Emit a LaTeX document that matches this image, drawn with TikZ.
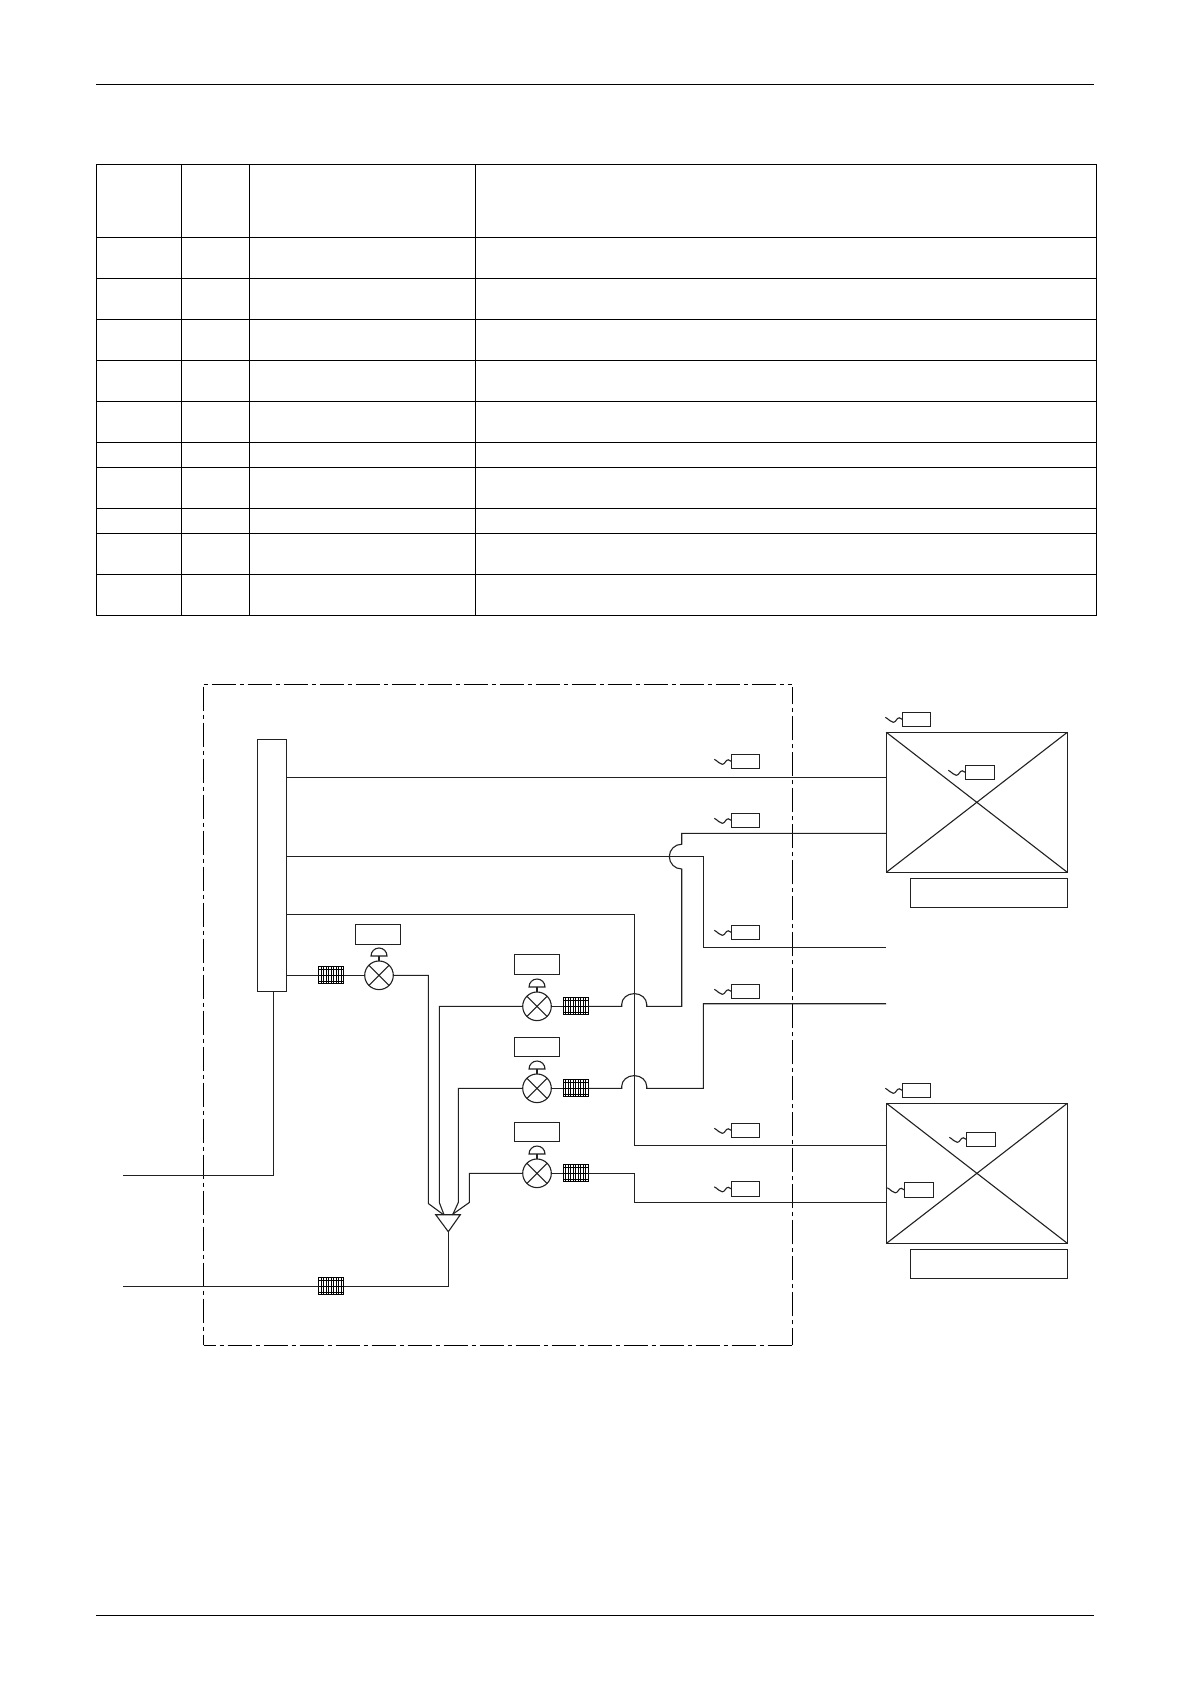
\documentclass[tikz,border=0pt]{standalone}
\usetikzlibrary{fit}
\definecolor{ink}{gray}{0.13}
\tikzset{
  x=0.5pt,y=-0.5pt,
  rulel/.style={line width=0.65pt,black},
  pipe/.style={line width=0.55pt,ink,line join=miter},
  boxn/.style={draw=ink,line width=0.55pt,rectangle,inner sep=0pt,outer sep=0pt},
  valven/.style={draw=ink,line width=0.55pt,circle,inner sep=0pt,outer sep=0pt,minimum size=14.3pt,
    path picture={\draw[ink,line width=0.55pt] (path picture bounding box.south west)--(path picture bounding box.north east)
      (path picture bounding box.north west)--(path picture bounding box.south east);}},
  fltn/.style={draw=black,line width=0.5pt,rectangle,inner sep=0pt,outer sep=0pt,minimum width=12.5pt,minimum height=8.35pt},
  finel/.style={line width=0.33pt,black},
  frameh/.style={line width=0.55pt,black,dash pattern=on 12pt off 2pt on 2pt off 2pt},
}
\newcommand\bx[5]{\node[boxn,fit={(#2,#3)(#4,#5)}] (#1) {};}
\newcommand\vlv[3]{%
  \node[valven] (#1) at (#2,#3) {};
  \begin{scope}[shift={(#2,#3)}]
    \coordinate (#1a) at (0,-19.3);
    \draw[pipe] (#1.north) -- (#1a);
    \draw[pipe] (-8,-19.3) arc[start angle=180,end angle=0,radius=4pt] -- cycle;
  \end{scope}}
\newcommand\flt[3]{%
  \node[fltn] (#1) at (#2,#3) {};
  \begin{scope}[shift={(#2,#3)}]
    \foreach \k in {-10,-7.5,-5,-2.5,0,2.5,5,7.5,10} {\draw[finel] (\k,-8.3) -- (\k,8.3);}
    \foreach \k in {-5.6,0,5.6} {\draw[finel] (-12.5,\k) -- (12.5,\k);}
  \end{scope}}
\newcommand\tgn[5]{%
  \bx{#1}{#2}{#3}{#4}{#5}
  \begin{scope}[shift={(#1.west)}]
    \draw[pipe] (-17,-2) .. controls (-13,0) and (-12,3) .. (-9,3) .. controls (-6,3) and (-6,-1.5) .. (-3,-1.5) .. controls (-1.5,-1.5) .. (0,0);
  \end{scope}}
\begin{document}
\begin{tikzpicture}
\fill[white] (0,0) rectangle (1190,1684);
\useasboundingbox (0,0) rectangle (1190,1684);

% page rules
\draw[rulel] (96,84.5) -- (1094,84.5);
\draw[rulel] (96,1615.4) -- (1094,1615.4);

% table
\foreach \yy in {164.5,237.5,278.5,319.5,360.5,401.5,442.5,467.5,508.5,533.5,574.5,615.5}
  {\draw[rulel] (96.5,\yy) -- (1096.5,\yy);}
\foreach \xx in {96.5,181.5,249.5,475.5,1096.5}
  {\draw[rulel] (\xx,164.5) -- (\xx,615.5);}

% dash-dot frame
\draw[frameh,dash phase=14pt] (203.7,684.3) -- (792.3,684.3);
\draw[frameh,dash phase=6pt] (203.5,1345.3) -- (792.3,1345.3);
\draw[frameh] (203.5,686.7) -- (203.5,1345.3);
\draw[frameh,dash phase=3.5pt] (792.3,1345.3) -- (792.3,686.7);

% equipment
\bx{bar}{257.7}{739.3}{286.3}{991.7}
\bx{unitA}{886.3}{732.3}{1067.3}{872.3}
\bx{nameA}{910.3}{878.3}{1067.3}{907.3}
\bx{unitB}{886.5}{1103.3}{1067.3}{1243.3}
\bx{nameB}{910.3}{1249.3}{1067.3}{1278.3}
\draw[pipe] (unitA.north west) -- (unitA.south east) (unitA.south west) -- (unitA.north east);
\draw[pipe] (unitB.north west) -- (unitB.south east) (unitB.south west) -- (unitB.north east);

% valves, boxes, filters
\vlv{v1}{379}{975.3}
\vlv{v2}{537}{1006.3}
\vlv{v3}{537}{1088.3}
\vlv{v4}{537}{1173.3}
\bx{b1}{355.3}{924.3}{400.7}{944.3}
\bx{b2}{514.3}{954.3}{559.7}{974.3}
\bx{b3}{514.3}{1037.3}{559.7}{1056.3}
\bx{b4}{514.3}{1122.3}{559.7}{1141.3}
\flt{f1}{331.2}{975.3}
\flt{f2}{575.7}{1006.3}
\flt{f3}{575.7}{1088.3}
\flt{f4}{575.7}{1173.3}
\flt{f5}{331.2}{1286.3}

% tags
\tgn{t1}{731.3}{754.3}{759.3}{768.3}
\tgn{t2}{731.3}{813.3}{759.3}{827.3}
\tgn{t3}{731.3}{925.3}{759.3}{939.3}
\tgn{t4}{731.3}{984.3}{759.3}{998.3}
\tgn{t5}{731.3}{1123.3}{759.3}{1137.3}
\tgn{t6}{731.3}{1181.3}{759.3}{1196.3}
\tgn{t7}{902.3}{712.3}{930.3}{726.3}
\tgn{t8}{965.3}{765.3}{994.7}{779.3}
\tgn{t9}{902.3}{1083.3}{930.7}{1097.3}
\tgn{t10}{966.3}{1132.3}{995.7}{1146.3}
\tgn{t11}{904.3}{1182.3}{933.7}{1197.3}

% junction coordinates
\coordinate (p1) at (428.3,1203.5);
\coordinate (p2) at (439.3,1202.5);
\coordinate (p3) at (458.3,1202.5);
\coordinate (p4) at (469.3,1202.5);
\coordinate (q1) at (443.5,1214.7);
\coordinate (q2) at (444,1214.7);
\coordinate (q3) at (452.7,1214.7);
\coordinate (q4) at (452,1214.7);
\coordinate (tl) at (435.7,1214.7);
\coordinate (tr) at (460.3,1214.7);
\coordinate (ta) at (448.3,1231.7);
\coordinate (inA) at (122.7,1175.3);
\coordinate (inB) at (122.7,1286.3);
\coordinate (endC) at (886,947.3);
\coordinate (endD) at (886,1003.7);

% distributor triangle
\draw[pipe] (tl) -- (tr) -- (ta) -- cycle;

% pipes from the bar
\draw[pipe] (bar.east |- 0,777.3) -- (unitA.west |- 0,777.3);
\draw[pipe] (bar.east |- 0,856.3) -- (703.3,856.3) -- (703.3,947.3) -- (endC);
\draw[pipe] (bar.east |- 0,914.3) -- (634.3,914.3) -- (634.3,1145.3) -- (unitB.west |- 0,1145.3);
\draw[pipe] (bar.east |- f1) -- (f1.west);
\draw[pipe] (f1.east) -- (v1.west);
\draw[pipe] (v1.east) -| (p1) -- (q1);
\draw[pipe] (bar.south -| 273.7,0) -- (273.7,1175.3) -- (inA);

% valve outlets to the distributor
\draw[pipe] (v2.west) -| (p2) -- (q2);
\draw[pipe] (v3.west) -| (p3) -- (q3);
\draw[pipe] (v4.west) -| (p4) -- (q4);
\draw[pipe] (v2.east) -- (f2.west);
\draw[pipe] (v3.east) -- (f3.west);
\draw[pipe] (v4.east) -- (f4.west);

% inlet
\draw[pipe] (ta) |- (f5.east);
\draw[pipe] (f5.west) -- (inB);

% return lines with hops
\draw[pipe] (f2.east) -- (621.7,1006.3) -- ++(0,-2) arc[start angle=180,end angle=0,x radius=6.25pt,y radius=5.35pt] -- (646.7,1006.3) -- (681.7,1006.3) -- (681.7,869) arc[start angle=270,end angle=90,radius=6.2pt] -- (681.7,833.3) -- (unitA.west |- 0,833.3);
\draw[pipe] (f3.east) -- (621.7,1088.3) -- ++(0,-2) arc[start angle=180,end angle=0,x radius=6.25pt,y radius=5.35pt] -- (646.7,1088.3) -- (703.3,1088.3) -- (703.3,1003.7) -- (endD);
\draw[pipe] (f4.east) -- (634.3,1173.3) -- (634.3,1202.3) -- (unitB.west |- 0,1202.3);
\end{tikzpicture}
\end{document}
